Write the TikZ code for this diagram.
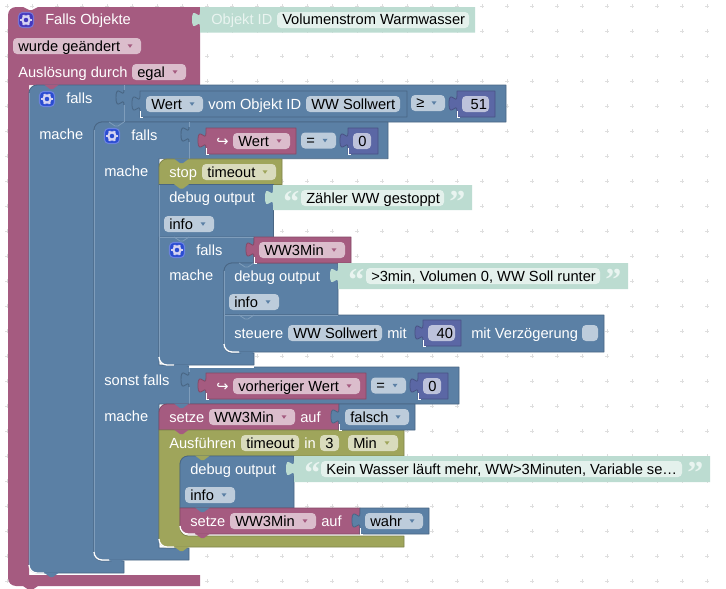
\documentclass[tikz,border=0pt]{standalone}
\usepackage{fontspec}
\setmainfont{Liberation Sans}
\newfontfamily\symf{DejaVu Sans}
\newfontfamily\qf{Liberation Serif}[BoldFont={Liberation Serif Bold}]
\definecolor{pk}{HTML}{A55B80}\definecolor{pkD}{HTML}{844966}\definecolor{pkL}{HTML}{DBBDCC}
\definecolor{bl}{HTML}{5B80A5}\definecolor{blD}{HTML}{496684}\definecolor{blL}{HTML}{BDCCDB}\definecolor{blH}{HTML}{7F9DBB}
\definecolor{ol}{HTML}{9FA55B}\definecolor{olD}{HTML}{7F844A}\definecolor{olL}{HTML}{D9DBBD}
\definecolor{gn}{HTML}{BCDCD1}\definecolor{gnL}{HTML}{E4F1EC}\definecolor{gnT}{HTML}{E9F4F0}
\definecolor{nm}{HTML}{5B67A5}\definecolor{nmD}{HTML}{495284}\definecolor{nmL}{HTML}{BDC2DB}
\definecolor{icP}{HTML}{4338BE}\definecolor{icB}{HTML}{2A4CD2}\definecolor{icG}{HTML}{D5D3F2}
\definecolor{gridc}{HTML}{DEDEDE}
\tikzset{
  edge/.style={line width=.6pt,line join=round},
  txt/.style={anchor=base west,inner sep=0pt,font=\fontsize{11}{13}\selectfont},
}
% corner helpers (y runs downwards)
\newcommand\rblk[8]{% fill,dark,x0,x1,y0,y1,r1,r2
  \path[fill=#1,draw=#2,edge] ({#3},{#5+#7}) .. controls ({#3},{#5+.45*#7}) and ({#3+.45*#7},{#5}) .. ({#3+#7},{#5}) -- ({#4},{#5}) -- ({#4},{#6}) -- ({#3+#8},{#6}) .. controls ({#3+.45*#8},{#6}) and ({#3},{#6-.45*#8}) .. ({#3},{#6-#8}) -- cycle;}
% value block with tab on the left: fill,dark,x0,x1,y0,y1
\newcommand\tabup[2]{.. controls ({#1},{#2+10}) and ({#1-8},{#2+28}) .. ({#1-8},{#2+12.5}) .. controls ({#1-8},{#2-3}) and ({#1},{#2+15}) .. ({#1},{#2+5})}
\newcommand\valb[6]{%
  \path[fill=#1,draw=#2,edge] ({#3},{#5}) -- ({#4},{#5}) -- ({#4},{#6}) -- ({#3},{#6}) -- ({#3},{#5+20}) \tabup{#3}{#5} -- cycle;
  \draw[white,line width=.6pt] ({#3},{#5+20}) -- ({#3},{#6}) -- ({#3+3},{#6});}
% tab outline on a block of the same colour
\newcommand\rowtab[3]{% x,ytop,ybot
  \draw[blH,line width=.7pt] ({#1},{#2}) -- ({#1},{#2+5});
  \draw[blH,line width=.7pt] ({#1},{#2+20}) -- ({#1},{#3});
  \draw[blD,line width=.7pt] ({#1},{#2+20}) \tabup{#1}{#2};}
\newcommand\bump[3]{% colour,x,y
  \fill[#1] ({#2+15},{#3-.5}) -- ({#2+21},{#3+4}) -- ({#2+24},{#3+4}) -- ({#2+30},{#3-.5}) -- cycle;}
\newcommand\bumpl[2]{% same colour on blue
  \draw[blH,line width=.6pt] ({#1+15},{#2}) -- ({#1+21},{#2+4}) -- ({#1+24},{#2+4}) -- ({#1+30},{#2});}
\newcommand\hl[2]{\draw[white,line width=1pt] ({#1},{#2-8}) .. controls ({#1},{#2-3.6}) and ({#1+3.6},{#2}) .. ({#1+8},{#2}) -- ({#1+15},{#2});}
\newcommand\lab[3]{\node[txt,text=white] at ({#1},{#2+5}) {#3};}
\newcommand\fld[5]{% x0,x1,yc,fill,text
  \fill[#4,rounded corners=3pt] ({#1},{#3-8}) rectangle ({#2},{#3+8});
  \node[txt,text=black] at ({#1+5},{#3+5}) {#5};}
\newcommand\dd[6]{% x0,x1,yc,fill,arrow,text
  \fld{#1}{#2}{#3}{#4}{#6}
  \fill[#5] ({#2-13.5},{#3-1.7}) -- ({#2-8.5},{#3-1.7}) -- ({#2-11},{#3+1.8}) -- cycle;}
\newcommand\strbody[4]{% x0,x1,y0,y1
  \path[fill=gn] ({#1},{#3}) -- ({#2},{#3}) -- ({#2},{#4}) -- ({#1},{#4}) -- ({#1},{#3+20}) \tabup{#1}{#3} -- cycle;}
\newcommand\strb[8]{% x0,x1,y0,y1,fx0,fx1,qclose,text
  \strbody{#1}{#2}{#3}{#4}
  \fld{#5}{#6}{#3+13}{gnL}{#8}
  \node[anchor=base west,inner sep=0pt,text=gnT,font=\qf\bfseries\fontsize{24}{24}\selectfont] at ({#1+10},{#3+27}) {“};
  \node[anchor=base west,inner sep=0pt,text=gnT,font=\qf\bfseries\fontsize{24}{24}\selectfont] at ({#7},{#3+27}) {”};}
\newcommand\icon[3]{% x0,y0,fill
  \draw[fill=#3,draw=#3!70!white,line width=.8pt,rounded corners=3pt] ({#1+.5},{#2+.5}) rectangle ({#1+15.5},{#2+15.5});
  \draw[icG,line width=1.6pt] ({#1+8},{#2+8}) circle (2.7pt);
  \foreach \a in {0,60,...,300}{\draw[icG,line width=1.7pt] ({#1+8+3.6*cos(\a)},{#2+8+3.6*sin(\a)}) -- ({#1+8+5.6*cos(\a)},{#2+8+5.6*sin(\a)});}}
\begin{document}
\begin{tikzpicture}[x=.75pt,y=-.75pt]
\useasboundingbox (0,0) rectangle (726,589);
\fill[white] (0,0) rectangle (726,589);
\foreach \i in {0,...,28}{\foreach \j in {0,...,23}{
  \draw[gridc,line width=.6pt] ({7.3+25*\i-2},{6+25*\j}) -- ({7.3+25*\i+2},{6+25*\j});
  \draw[gridc,line width=.6pt] ({7.3+25*\i},{6+25*\j-2}) -- ({7.3+25*\i},{6+25*\j+2});}}

% main event block
\path[fill=pk] (8,15) .. controls (8,10.6) and (11.6,7) .. (16,7) -- (23,7) -- (29,10) -- (32,10) -- (38,7) -- (200,7) -- (200,85) -- (29,85) -- (29,575) -- (200,575) -- (200,586) -- (38,586) -- (32,590) -- (29,590) -- (23,586) -- (16,586) .. controls (11.6,586) and (8,582.4) .. (8,578) -- cycle;
\strbody{200}{475}{7}{32.5}

% outer if
\path[fill=bl,draw=blD,edge] (29,93) .. controls (29,88.6) and (32.6,85) .. (37,85) -- (506,85) -- (506,122) -- (102,122) .. controls (97.6,122) and (94,125.6) .. (94,130) -- (94,553) .. controls (94,557.4) and (97.6,561) .. (102,561) -- (124,561) -- (124,573) -- (37,573) .. controls (32.6,573) and (29,569.4) .. (29,565) -- cycle;
% second if
\path[fill=bl,draw=blD,edge] (94,130) .. controls (94,125.6) and (97.6,122) .. (102,122) -- (388,122) -- (388,158.7) -- (159,158.7) -- (159,365) -- (189,366) -- (189,367) -- (459,367) -- (459,404) -- (159,404) -- (159,548) -- (189,548) -- (189,560) -- (102,560) .. controls (97.6,560) and (94,556.4) .. (94,552) -- cycle;
\draw[blH,line width=.7pt] (29,93) -- (29,565);
\draw[blH,line width=.7pt] (94,130) -- (94,552);
\rowtab{124}{85}{122}
\rowtab{189}{122}{158.7}
\rowtab{189}{367}{404}

% stop
\rblk{ol}{olD}{159}{282}{159}{184.6}{8}{0}
% debug 1
\rblk{bl}{blD}{159}{273}{184.6}{237}{0}{0}
% falls 3
\path[fill=bl,draw=blD,edge] (159,237) -- (254,237) -- (254,263) -- (232,263) .. controls (227.6,263) and (224,266.6) .. (224,271) -- (224,345) .. controls (224,349.4) and (227.6,353) .. (232,353) -- (254,353) -- (254,365) -- (167,365) .. controls (162.6,365) and (159,361.4) .. (159,357) -- cycle;
\draw[blH,line width=.7pt] (159,185) -- (159,357);
\draw[blH,line width=.7pt] (159,237) -- (254,237);
% debug 2
\rblk{bl}{blD}{224}{338}{263}{315}{8}{0}
% steuere
\rblk{bl}{blD}{224}{604}{315}{352}{0}{8}
\draw[blH,line width=.7pt] (224,271) -- (224,344);
\draw[blH,line width=.7pt] (224,315) -- (338,315);
% setze 1
\rblk{pk}{pkD}{159}{339}{404}{430}{8}{0}
% olive run
\path[fill=ol,draw=olD,edge] (159,430) -- (404,430) -- (404,456) -- (188,456) .. controls (183.6,456) and (180,459.6) .. (180,464) -- (180,528) .. controls (180,532.4) and (183.6,536) .. (188,536) -- (404,536) -- (404,547) -- (167,547) .. controls (162.6,547) and (159,543.4) .. (159,539) -- cycle;
% debug 3
\rblk{bl}{blD}{180}{294}{456}{508}{8}{0}
% setze 2
\rblk{pk}{pkD}{180}{360}{508}{534}{0}{8}

% bumps
\bump{pk}{29}{85}
\bumpl{94}{122}
\bump{bl}{159}{159}
\bump{ol}{159}{184.6}
\bumpl{159}{237}
\bumpl{224}{263}
\bumpl{224}{315}
\bump{bl}{159}{404}
\bump{pk}{159}{430}
\bump{ol}{180}{456}
\bump{bl}{180}{508}
\bump{pk}{180}{534}
\bump{ol}{159}{547}
\bump{bl}{94}{560}
\bump{bl}{29}{573}
\fill[bl] (239,352) -- (245,356) -- (248,356) -- (254,352) -- cycle;
\fill[bl] (174,365) -- (180,369) -- (183,369) -- (189,365) -- cycle;
% white corner highlights
\hl{29}{573}\hl{94}{560}\hl{159}{547}\hl{159}{365}\hl{224}{352}\hl{180}{534}
\draw[white,line width=.8pt] (189,367) -- (254,367);

% ---- main labels
\icon{18}{12}{icP}
\lab{45}{20}{Falls Objekte}
\node[txt,text=gnT] at (211,25) {Objekt ID};
\fld{277}{469}{20}{gnL}{Volumenstrom Warmwasser}
\dd{13}{141}{46}{pkL}{pk}{wurde geändert}
\lab{18}{72}{Auslösung durch}
\dd{132}{186}{72}{pkL}{pk}{egal}

% ---- outer if row
\icon{39}{91}{icB}
\lab{66}{98}{falls}
\lab{39}{134}{mache}
\valb{bl}{blD}{140}{407}{91}{117}
\dd{146}{203}{104}{blL}{bl}{Wert}
\lab{208}{104}{vom Objekt ID}
\fld{306}{400}{104}{blL}{WW Sollwert}
\dd{411}{445}{103}{blL}{bl}{≥}
\valb{nm}{nmD}{457}{495}{91}{117}
\fld{462}{489}{104}{nmL}{\hspace{2.5pt}51}

% ---- second if row
\icon{104}{128}{icB}
\lab{131}{135}{falls}
\lab{104}{171}{mache}
\valb{pk}{pkD}{206}{296}{128}{154}
\node[txt,text=white,font=\symf\fontsize{11}{13}\selectfont] at (216,146) {↪};
\dd{233}{290}{141}{pkL}{pk}{Wert}
\dd{301}{336}{140.5}{blL}{bl}{=}
\valb{nm}{nmD}{348}{378}{128}{154}
\fld{353}{371}{141}{nmL}{0}

% ---- stop
\lab{169}{172}{stop}
\dd{202}{276}{172}{olL}{ol}{timeout}

% ---- debug 1
\lab{169}{197}{debug output}
\strb{273}{472}{185}{210}{301}{444}{449}{Zähler WW gestoppt}
\dd{164}{214}{224}{blL}{bl}{info}

% ---- falls 3
\icon{169}{242}{icB}
\lab{196}{250}{falls}
\lab{169}{275}{mache}
\valb{pk}{pkD}{254}{351}{237}{263}
\dd{259}{345}{250}{pkL}{pk}{WW3Min}

% ---- debug 2
\lab{234}{276}{debug output}
\strb{338}{628}{263}{289}{366}{600}{605}{>3min, Volumen 0, WW Soll runter}
\dd{229}{279}{302}{blL}{bl}{info}

% ---- steuere
\lab{234}{333}{steuere}
\fld{288}{382}{333}{blL}{WW Sollwert}
\lab{387}{333}{mit}
\valb{nm}{nmD}{423}{461}{320}{346}
\fld{428}{455}{333}{nmL}{\hspace{2.5pt}40}
\lab{471}{333}{mit Verzögerung}
\fill[blL,rounded corners=3pt] (582,325) rectangle (598,341);

% ---- sonst falls
\lab{104}{380}{sonst falls}
\valb{pk}{pkD}{206}{366}{373}{399}
\node[txt,text=white,font=\symf\fontsize{11}{13}\selectfont] at (216,391) {↪};
\dd{233}{360}{386}{pkL}{pk}{vorheriger Wert}
\dd{371}{406}{385.5}{blL}{bl}{=}
\valb{nm}{nmD}{418}{448}{373}{399}
\fld{423}{441}{386}{nmL}{0}
\lab{104}{416}{mache}

% ---- setze 1
\lab{169}{417}{setze}
\dd{209}{295}{417}{pkL}{pk}{WW3Min}
\lab{300}{417}{auf}
\valb{bl}{blD}{339}{415}{404}{430}
\dd{345}{409}{417}{blL}{bl}{falsch}

% ---- Ausfuehren
\lab{169}{443}{Ausführen}
\fld{241}{299}{443}{olL}{timeout}
\lab{304}{443}{in}
\fld{320}{339}{443}{olL}{3}
\dd{348}{398}{443}{olL}{ol}{Min}

% ---- debug 3
\lab{190}{469}{debug output}
\strb{294}{710}{456}{482}{321}{682}{687}{Kein Wasser läuft mehr, WW>3Minuten, Variable se…}
\dd{185}{235}{495}{blL}{bl}{info}

% ---- setze 2
\lab{190}{521}{setze}
\dd{230}{316}{521}{pkL}{pk}{WW3Min}
\lab{321}{521}{auf}
\valb{bl}{blD}{360}{429}{508}{534}
\dd{365}{423}{521}{blL}{bl}{wahr}
\end{tikzpicture}
\end{document}
